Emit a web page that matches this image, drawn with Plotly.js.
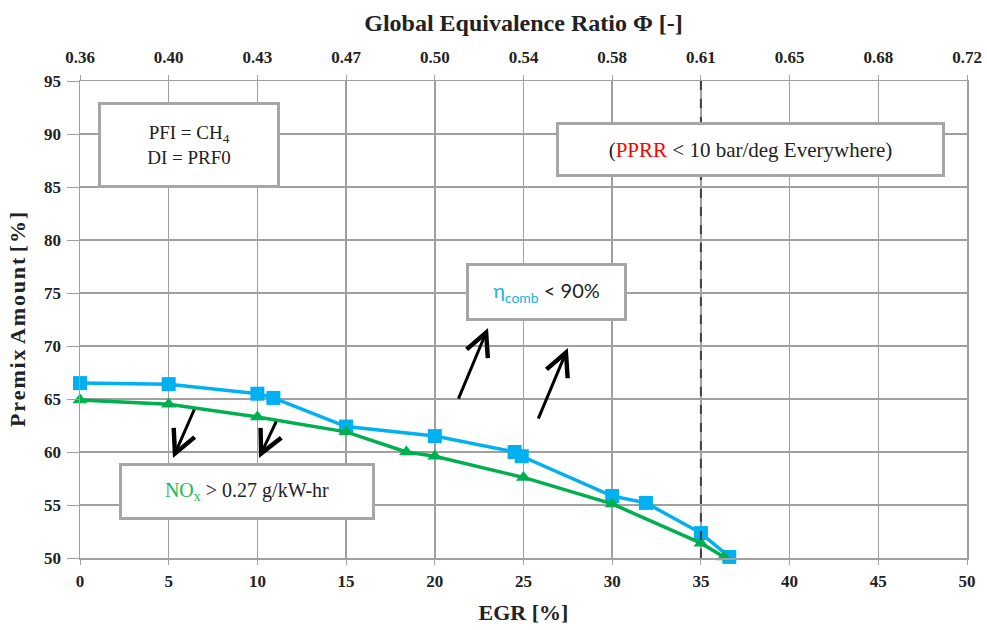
<!DOCTYPE html>
<html>
<head>
<meta charset="utf-8">
<script src="https://cdn.plot.ly/plotly-3.0.1.min.js"></script>
<style>html,body{margin:0;padding:0;background:#fff;}#chart{width:987px;height:630px;}</style>
</head>
<body>
<div id="chart"></div>
<script>
// Data
var egrBlue = [0, 5, 10, 10.9, 15, 20, 24.5, 24.9, 30, 31.9, 35, 36.6];
var premixBlue = [66.5, 66.4, 65.5, 65.1, 62.4, 61.5, 60.0, 59.6, 55.85, 55.2, 52.35, 50.1];
var egrGreen = [0, 5, 10, 15, 18.4, 20, 25, 30, 35, 36.3];
var premixGreen = [64.9, 64.5, 63.3, 61.9, 60.0, 59.6, 57.6, 55.1, 51.4, 50.1];
var bottomTicks = [0, 5, 10, 15, 20, 25, 30, 35, 40, 45, 50];
var phiLabels = ['0.36', '0.40', '0.43', '0.47', '0.50', '0.54', '0.58', '0.61', '0.65', '0.68', '0.72'];
var yTicks = [50, 55, 60, 65, 70, 75, 80, 85, 90, 95];
var limitEGR = 35;

var serif = '"Liberation Serif", "Times New Roman", serif';
var tickFont = {family: serif, size: 17, color: '#222', weight: 'bold'};
var gridC = '#a0a0a0';

var traces = [
  {x: egrBlue, y: premixBlue, mode: 'lines+markers', type: 'scatter', cliponaxis: false,
   line: {color: '#00b0f0', width: 3.5}, marker: {symbol: 'square', size: 14, color: '#00b0f0'}, showlegend: false},
  {x: egrGreen, y: premixGreen, mode: 'lines+markers', type: 'scatter', cliponaxis: false,
   line: {color: '#00b050', width: 3.5}, marker: {symbol: 'triangle-up', size: 13, color: '#00b050'}, showlegend: false},
  {x: [bottomTicks[0], bottomTicks[bottomTicks.length-1]], y: [50, 50], xaxis: 'x2', mode: 'markers',
   marker: {opacity: 0}, hoverinfo: 'skip', showlegend: false}
];

function arrow(x, y, ax, ay) {
  return {x: x, y: y, ax: ax, ay: ay, xref: 'x', yref: 'y', axref: 'x', ayref: 'y', text: '',
    showarrow: true, arrowhead: 5, arrowsize: 1.5, arrowwidth: 3, arrowcolor: '#000'};
}
function box(x, y, w, h, text, font) {
  return {x: x, y: y, xref: 'x', yref: 'y', text: text, showarrow: false, width: w, height: h,
    bgcolor: '#fff', bordercolor: '#a6a6a6', borderwidth: 3, borderpad: 0, font: font,
    align: 'center', valign: 'middle'};
}

var premixTitle = 'Premix\u200AAmount\u200A[%]'.split('').join('\u200A');

var layout = {
  width: 987, height: 630,
  margin: {l: 80, r: 20, t: 81, b: 72},
  paper_bgcolor: '#fff', plot_bgcolor: '#fff',
  xaxis: {range: [0, 50], tickvals: bottomTicks, ticktext: bottomTicks.map(String), tickfont: tickFont,
    showgrid: true, gridcolor: gridC, gridwidth: 1.5, zeroline: false,
    showline: true, linecolor: gridC, linewidth: 1.5, ticks: 'outside', ticklen: 5, tickcolor: gridC,
    ticklabelstandoff: 2,
    title: {text: '<b>EGR [%]</b>', font: {family: serif, size: 22, color: '#222'}, standoff: 14}},
  xaxis2: {range: [0, 50], overlaying: 'x', side: 'top', tickvals: bottomTicks, ticktext: phiLabels,
    tickfont: tickFont, showgrid: false, zeroline: false, showline: true, linecolor: gridC, linewidth: 1.5,
    ticks: 'outside', ticklen: 5, tickcolor: gridC, ticklabelstandoff: 5,
    title: {text: '<b>Global Equivalence Ratio Φ [-]</b>', font: {family: serif, size: 24, color: '#222'}, standoff: 9}},
  yaxis: {range: [50, 95], tickvals: yTicks, ticktext: yTicks.map(String), tickfont: tickFont,
    showgrid: true, gridcolor: gridC, gridwidth: 1.5, zeroline: false,
    showline: true, mirror: true, linecolor: gridC, linewidth: 1.5, ticks: 'outside', ticklen: 12, tickcolor: gridC,
    ticklabelstandoff: 2,
    title: {text: '<b>' + premixTitle + '</b>', font: {family: serif, size: 22, color: '#222'}, standoff: 12}},
  shapes: [
    {type: 'line', xref: 'x', yref: 'y', x0: limitEGR, x1: limitEGR, y0: 50, y1: 95,
     line: {color: '#404040', width: 2, dash: 'dash'}}
  ],
  annotations: [
    arrow(5.24, 59.43, 6.48, 64.15),
    arrow(10.09, 59.43, 11.1, 63.0),
    arrow(23.0, 71.7, 21.3, 64.9),
    arrow(27.5, 69.8, 25.8, 63.0),
    box(6.17, 88.92, 176, 80, 'PFI = CH<sub>4</sub><br>DI = PRF0', {family: serif, size: 19, color: '#222'}),
    box(37.82, 88.58, 383, 49, '(<span style="color:#ff0000">PPRR</span> &lt; 10 bar/deg Everywhere)', {family: serif, size: 21, color: '#222'}),
    box(26.32, 75.05, 155, 52, '<span style="color:#22aee6">η<sub>comb</sub></span> &lt; 90%', {family: 'Lato, "Open Sans", sans-serif', size: 20, color: '#222'}),
    box(9.39, 56.23, 250, 51, '<span style="color:#1db954">NO<sub>x</sub></span> &gt; 0.27 g/kW-hr', {family: serif, size: 20, color: '#222'})
  ]
};

Plotly.newPlot('chart', traces, layout, {displayModeBar: false, staticPlot: true});
</script>
</body>
</html>
